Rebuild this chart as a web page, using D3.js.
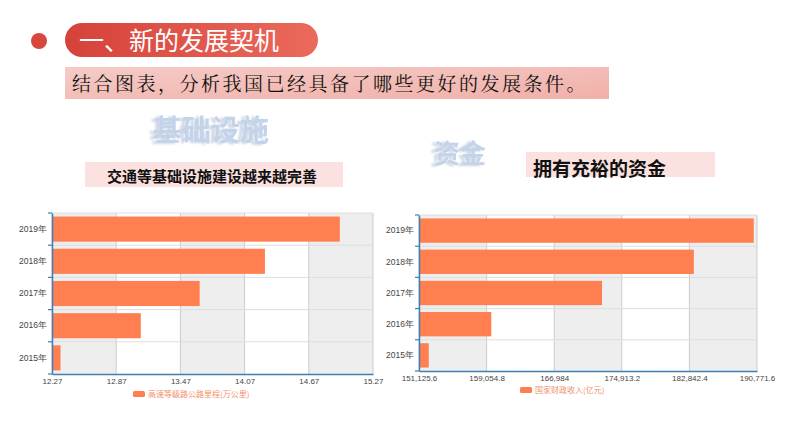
<!DOCTYPE html>
<html><head><meta charset="utf-8">
<script src="https://cdn.jsdelivr.net/npm/d3@7"></script>
<style>
html,body{margin:0;padding:0;background:#fff;}
svg{display:block;font-family:"Liberation Sans","Noto Sans CJK SC",sans-serif;}
</style></head>
<body>
<svg id="c" width="794" height="447"></svg>
<script>
const years = ["2019年","2018年","2017年","2016年","2015年"];
const roadValues = [14.96, 14.26, 13.65, 13.10, 12.35];
const roadTicks = [12.27, 12.87, 13.47, 14.07, 14.67, 15.27];
const roadTickLabels = ["12.27","12.87","13.47","14.07","14.67","15.27"];
const revValues = [190390.1, 183359.8, 172592.8, 159605.0, 152269.2];
const revTicks = [151125.6, 159054.8, 166984, 174913.2, 182842.4, 190771.6];
const revTickLabels = ["151,125.6","159,054.8","166,984","174,913.2","182,842.4","190,771.6"];
const roadLegend = "高速等级路公路里程(万公里)";
const revLegend = "国家财政收入(亿元)";

const svg = d3.select("#c");
const defs = svg.append("defs");
const g1 = defs.append("linearGradient").attr("id","pill").attr("x1","0").attr("x2","1");
g1.append("stop").attr("offset","0").attr("stop-color","#d6423a");
g1.append("stop").attr("offset","1").attr("stop-color","#ea6a5c");
const g2 = defs.append("linearGradient").attr("id","band").attr("x1","0").attr("x2","1").attr("y1","0").attr("y2","1");
g2.append("stop").attr("offset","0").attr("stop-color","#f5cbc6");
g2.append("stop").attr("offset","1").attr("stop-color","#f1b0a9");
const f = defs.append("filter").attr("id","wmshadow").attr("x","-20%").attr("y","-20%").attr("width","140%").attr("height","140%");
f.append("feDropShadow").attr("dx",-4).attr("dy",1).attr("stdDeviation",0.8).attr("flood-color","#8fa3c2").attr("flood-opacity",0.45);

// header
svg.append("circle").attr("cx",39).attr("cy",41).attr("r",8).attr("fill","#d9473c");
svg.append("rect").attr("x",65).attr("y",23).attr("width",253).attr("height",34).attr("rx",17).attr("fill","url(#pill)");
svg.append("text").attr("x",79).attr("y",50).attr("fill","#fff").attr("font-size",25)
  .attr("font-family","'Noto Sans CJK SC',sans-serif").text("一、新的发展契机");
svg.append("rect").attr("x",65).attr("y",67).attr("width",544).attr("height",32).attr("fill","url(#band)");
svg.append("text").attr("x",72).attr("y",91).attr("fill","#111").attr("font-size",19).attr("letter-spacing",2.5)
  .attr("font-family","'Noto Serif CJK SC','Noto Sans CJK SC',serif").text("结合图表，分析我国已经具备了哪些更好的发展条件。");

// watermark titles
function wm(txt,x,y,fs){
  svg.append("text").attr("x",x).attr("y",y).attr("text-anchor","middle").attr("font-size",fs).attr("font-weight","bold")
    .attr("fill","#c3d3ea").attr("filter","url(#wmshadow)").attr("font-family","'Noto Sans CJK SC',sans-serif").text(txt);
}
wm("基础设施",211,141,29);
wm("资金",460,163,26);

svg.append("rect").attr("x",85).attr("y",162).attr("width",258).attr("height",25).attr("fill","#fbe1df");
svg.append("text").attr("x",107).attr("y",182).attr("font-size",15).attr("font-weight","bold").attr("fill","#111")
  .attr("font-family","'Noto Sans CJK SC',sans-serif").text("交通等基础设施建设越来越完善");
svg.append("rect").attr("x",526).attr("y",152).attr("width",189).attr("height",25).attr("fill","#fbe1df");
svg.append("text").attr("x",533).attr("y",176).attr("font-size",19).attr("font-weight","bold").attr("fill","#111")
  .attr("font-family","'Noto Sans CJK SC',sans-serif").text("拥有充裕的资金");

function chart(o){
  const x = d3.scaleLinear().domain([o.ticks[0], o.ticks[o.ticks.length-1]]).range([o.x0,o.x1]);
  const y = d3.scaleBand().domain(years).range([o.y0,o.y1]).paddingInner(0.22).paddingOuter(0.11);
  const yb = d3.scaleBand().domain(years).range([o.y0,o.y1]);
  const g = svg.append("g");
  for(let i=0;i<o.ticks.length-1;i++){
    g.append("rect").attr("x",x(o.ticks[i])).attr("y",o.y0).attr("width",x(o.ticks[i+1])-x(o.ticks[i]))
      .attr("height",o.y1-o.y0).attr("fill", i%2===0 ? "#eeeeee" : "#ffffff");
  }
  o.ticks.forEach(t=>g.append("line").attr("x1",x(t)).attr("x2",x(t)).attr("y1",o.y0).attr("y2",o.y1).attr("stroke","#cccccc"));
  years.forEach(d=>g.append("line").attr("x1",o.x0).attr("x2",o.x1).attr("y1",yb(d)).attr("y2",yb(d)).attr("stroke","#dddddd"));
  g.selectAll(".bar").data(o.values).enter().append("rect")
    .attr("x",o.x0).attr("y",(d,i)=>y(years[i])).attr("width",d=>x(d)-o.x0).attr("height",y.bandwidth())
    .attr("fill","#ff7f50");
  const ax = d3.axisLeft(yb).tickSize(0).tickPadding(5);
  const ga = g.append("g").attr("transform",`translate(${o.x0},0)`).call(ax);
  ga.select(".domain").attr("stroke","#3f7fb3").attr("stroke-width",1.5);
  ga.selectAll("text").attr("font-size",8.5).attr("fill","#444");
  years.concat([null]).forEach((d,i)=>{
    const yy = d===null ? o.y1 : yb(d);
    g.append("line").attr("x1",o.x0-4).attr("x2",o.x0).attr("y1",yy).attr("y2",yy).attr("stroke","#3f7fb3").attr("stroke-width",1.2);
  });
  const bx = d3.axisBottom(x).tickValues(o.ticks).tickFormat((d,i)=>o.labels[i]).tickSize(0).tickPadding(4);
  const gb = g.append("g").attr("transform",`translate(0,${o.y1})`).call(bx);
  gb.select(".domain").attr("stroke","#3f7fb3").attr("stroke-width",1.5);
  gb.selectAll("text").attr("font-size",8).attr("fill","#444");
  g.append("rect").attr("x",o.lx).attr("y",o.ly-3).attr("width",12).attr("height",6).attr("rx",1.5).attr("fill","#ff7f50");
  g.append("text").attr("x",o.lx+15).attr("y",o.ly+3).attr("font-size",8).attr("fill","#f0906c")
    .attr("font-family","'Noto Sans CJK SC',sans-serif").text(o.legend);
}
chart({x0:52,x1:373,y0:213,y1:374,ticks:roadTicks,labels:roadTickLabels,values:roadValues,legend:roadLegend,lx:133,ly:394});
chart({x0:419,x1:757,y0:215,y1:371,ticks:revTicks,labels:revTickLabels,values:revValues,legend:revLegend,lx:520,ly:390});
</script>
</body></html>
